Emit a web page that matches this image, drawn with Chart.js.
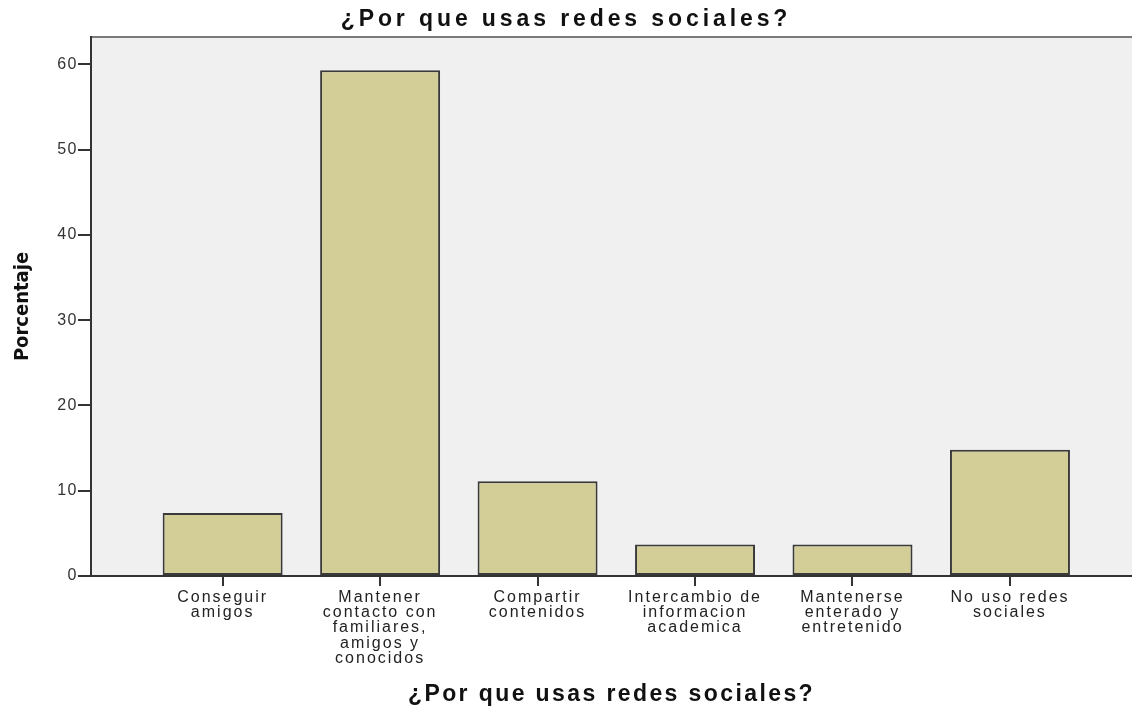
<!DOCTYPE html>
<html>
<head>
<meta charset="utf-8">
<script src="https://cdn.jsdelivr.net/npm/chart.js@4"></script>
<style>
  html,body{margin:0;padding:0;background:#fff;}
  #wrap{width:1132px;height:713px;}
</style>
</head>
<body>
<div id="wrap"><canvas id="c"></canvas></div>
<script>
const categories = [
  ["Conseguir","amigos"],
  ["Mantener","contacto con","familiares,","amigos y","conocidos"],
  ["Compartir","contenidos"],
  ["Intercambio de","informacion","academica"],
  ["Mantenerse","enterado y","entretenido"],
  ["No uso redes","sociales"]
];
const percentages = [7.4, 59.3, 11.1, 3.7, 3.7, 14.8];
const yTicks = [0, 10, 20, 30, 40, 50, 60];
const titleText = "¿Por que usas redes sociales?";
const yTitle = "Porcentaje";

const areaPlugin = {
  id: 'areaBg',
  beforeDraw(chart) {
    const {ctx, chartArea: a} = chart;
    ctx.save();
    ctx.fillStyle = '#f0f0f0';
    ctx.fillRect(a.left, a.top, a.right - a.left, a.bottom - a.top);
    ctx.strokeStyle = '#7a7a7a';
    ctx.lineWidth = 2;
    ctx.beginPath();
    ctx.moveTo(a.left, a.top);
    ctx.lineTo(a.right, a.top);
    ctx.stroke();
    ctx.restore();
  }
};

const chart = new Chart(document.getElementById('c'), {
  type: 'bar',
  data: {
    datasets: [{
      data: percentages.map((v, i) => ({x: i, y: v})),
      backgroundColor: '#d3cd97',
      borderColor: '#3a3a3a',
      borderWidth: 2,
      borderSkipped: false,
      barPercentage: 0.762,
      categoryPercentage: 1
    }]
  },
  options: {
    responsive: true,
    maintainAspectRatio: false,
    animation: false,
    layout: {padding: {left: 0, right: 0, top: 0, bottom: 0}},
    plugins: {
      legend: {display: false},
      tooltip: {enabled: false},
      title: {
        display: true,
        text: titleText,
        color: '#111',
        font: {family: 'Liberation Sans', size: 23, weight: 'bold', lineHeight: 1.2},
        padding: {top: 6, bottom: 3.4}
      }
    },
    scales: {
      x: {
        type: 'linear',
        offset: false,
        min: -0.836,
        max: 5.775,
        afterBuildTicks(s) { s.ticks = categories.map((_, i) => ({value: i})); },
        afterFit(s) { s.height = 137; },
        ticks: {
          autoSkip: false,
          maxRotation: 0,
          padding: 4,
          color: '#222',
          font: {family: 'Liberation Sans', size: 16, lineHeight: 0.95},
          callback: (v) => categories[v] || ''
        },
        grid: {offset: false, drawOnChartArea: false, drawTicks: true, tickLength: 10, color: '#333', lineWidth: 2},
        border: {display: true, color: '#333', width: 2},
        title: {
          display: true,
          text: titleText,
          color: '#111',
          font: {family: 'Liberation Sans', size: 23, weight: 'bold', lineHeight: 1.2},
          padding: {top: 4, bottom: 5}
        }
      },
      y: {
        min: 0,
        max: 63.2,
        afterBuildTicks(s) { s.ticks = yTicks.map(v => ({value: v})); },
        afterFit(s) { s.width = 91; },
        ticks: {
          padding: 0,
          color: '#333',
          font: {family: 'Liberation Sans', size: 16}
        },
        grid: {drawOnChartArea: false, drawTicks: true, tickLength: 13, color: '#333', lineWidth: 2},
        border: {display: true, color: '#333', width: 2},
        title: {
          display: true,
          text: yTitle,
          color: '#111',
          font: {family: 'DejaVu Sans Condensed', size: 20, weight: 'bold', lineHeight: 1.2},
          padding: {top: 11, bottom: 0}
        }
      }
    }
  },
  plugins: [areaPlugin]
});

// the reference text is rendered with wide letter spacing
function spaced(obj, fnName, spacing) {
  const orig = obj[fnName];
  obj[fnName] = function(...args) {
    const ctx = chart.ctx;
    const prev = ctx.letterSpacing;
    ctx.letterSpacing = spacing;
    const r = orig.apply(this, args);
    ctx.letterSpacing = prev || '0px';
    return r;
  };
}
if (chart.titleBlock) spaced(chart.titleBlock, 'draw', '3.9px');
spaced(chart.scales.x, 'drawTitle', '2.4px');
spaced(chart.scales.x, 'drawLabels', '2px');
spaced(chart.scales.y, 'drawLabels', '1.5px');
chart.draw();
</script>
</body>
</html>
